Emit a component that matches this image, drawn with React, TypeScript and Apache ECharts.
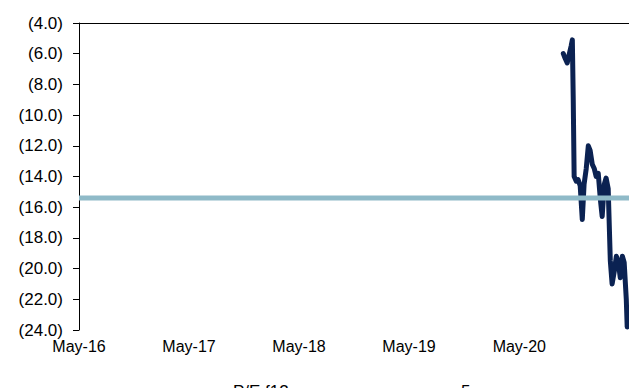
import React, { useEffect, useRef } from "react";
import * as echarts from "echarts";

// Forward P/E (negative earnings, shown in parentheses) and its 5-year average
const peDates = [
  "2020-09-24", "2020-09-30", "2020-10-07", "2020-10-14", "2020-10-20",
  "2020-10-24", "2020-10-27", "2020-10-30", "2020-11-06", "2020-11-12",
  "2020-11-19", "2020-11-26", "2020-12-02", "2020-12-09", "2020-12-16",
  "2020-12-22", "2020-12-29", "2021-01-05", "2021-01-11", "2021-01-18",
  "2021-01-25", "2021-01-31", "2021-02-07", "2021-02-13", "2021-02-20",
  "2021-02-27", "2021-03-05", "2021-03-12", "2021-03-19", "2021-03-25",
  "2021-04-01", "2021-04-08", "2021-04-14", "2021-04-21", "2021-04-24",
];
const peValues = [
  -6.0, -6.3, -6.6, -6.0, -5.5,
  -5.1, -9.0, -14.0, -14.3, -14.2,
  -14.6, -16.8, -14.5, -13.5, -12.0,
  -12.3, -13.2, -13.5, -14.0, -13.8,
  -15.5, -16.6, -14.5, -14.1, -14.8,
  -19.5, -21.0, -20.2, -19.2, -19.5,
  -20.6, -19.2, -19.6, -22.0, -23.8,
];
const avgDates = ["2016-05-01", "2021-04-30"];
const avgValues = [-15.4, -15.4];

const xLabelDates = ["2016-05-01", "2017-05-01", "2018-05-01", "2019-05-01", "2020-05-01"];
const seriesNames = ["P/E f12m", "5yr average"];

const X_MIN = "2016-05-01";
const X_MAX = "2021-04-30";
const Y_MIN = -24;
const Y_MAX = -4;
const Y_STEP = 2;

const MONTHS = ["Jan", "Feb", "Mar", "Apr", "May", "Jun", "Jul", "Aug", "Sep", "Oct", "Nov", "Dec"];
const FONT = "Arial, 'Liberation Sans', sans-serif";

// dates are kept as UTC timestamps on a plain value axis
const ts = (d: string) => Date.UTC(+d.slice(0, 4), +d.slice(5, 7) - 1, +d.slice(8, 10));

export default function App() {
  const ref = useRef<HTMLDivElement>(null);

  useEffect(() => {
    document.body.style.margin = "0";
    if (!ref.current) return;
    const chart = echarts.init(ref.current, undefined, { renderer: "svg" });

    const peData = peDates.map((d, i) => [ts(d), peValues[i]]);
    const avgData = avgDates.map((d, i) => [ts(d), avgValues[i]]);

    chart.setOption({
      animation: false,
      backgroundColor: "#ffffff",
      textStyle: { fontFamily: FONT },
      grid: {
        left: 79,
        right: 0,
        top: 23,
        bottom: 58,
        containLabel: false,
      },
      legend: {
        top: 378,
        left: 198,
        itemGap: 128,
        icon: "rect",
        itemWidth: 25,
        itemHeight: 4,
        textStyle: { fontSize: 17, color: "#000", fontFamily: FONT },
        data: seriesNames,
      },
      xAxis: [
        {
          type: "value",
          position: "bottom",
          min: ts(X_MIN),
          max: ts(X_MAX),
          axisLine: { show: false },
          axisTick: { show: false },
          splitLine: { show: false },
          axisLabel: {
            customValues: xLabelDates.map(ts),
            fontSize: 16,
            color: "#000",
            fontFamily: FONT,
            margin: 8,
            formatter: (v: number) => {
              const d = new Date(v);
              return `${MONTHS[d.getUTCMonth()]}-${String(d.getUTCFullYear()).slice(2)}`;
            },
          },
        },
        {
          type: "value",
          position: "top",
          min: ts(X_MIN),
          max: ts(X_MAX),
          axisLine: { show: true, onZero: false, lineStyle: { color: "#000", width: 1 } },
          axisTick: { show: false },
          axisLabel: { show: false },
          splitLine: { show: false },
        },
      ],
      yAxis: {
        type: "value",
        min: Y_MIN,
        max: Y_MAX,
        interval: Y_STEP,
        axisLine: { show: true, onZero: false, lineStyle: { color: "#000", width: 1 } },
        axisTick: { show: true, length: 6, inside: false, lineStyle: { color: "#000" } },
        splitLine: { show: false },
        axisLabel: {
          fontSize: 17,
          color: "#000",
          fontFamily: FONT,
          margin: 16,
          formatter: (v: number) => `(${Math.abs(v).toFixed(1)})`,
        },
      },
      series: [
        {
          name: seriesNames[0],
          type: "line",
          xAxisIndex: 0,
          data: peData,
          showSymbol: false,
          symbol: "none",
          color: "#0b2252",
          lineStyle: { color: "#0b2252", width: 5, cap: "round", join: "round" },
        },
        {
          name: seriesNames[1],
          type: "line",
          xAxisIndex: 0,
          data: avgData,
          showSymbol: false,
          symbol: "none",
          color: "#8fbac8",
          lineStyle: { color: "#8fbac8", width: 5 },
        },
      ],
    });

    return () => chart.dispose();
  }, []);

  return <div ref={ref} style={{ width: 629, height: 388 }} />;
}
